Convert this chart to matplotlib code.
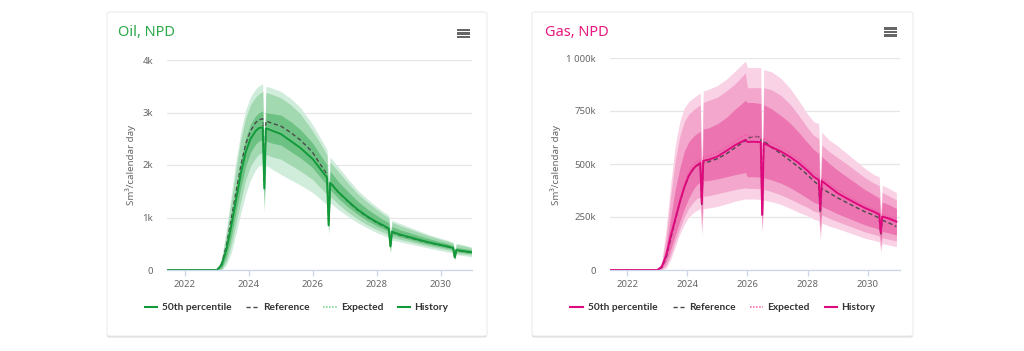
import matplotlib
matplotlib.use("Agg")
import matplotlib.pyplot as plt
from matplotlib.lines import Line2D
from matplotlib.patches import FancyBboxPatch, Rectangle

plt.rcParams["font.family"] = ["Noto Sans", "DejaVu Sans"]

W, H = 1024, 351

# shared time axis (decimal years); the four maintenance dips sit at 2024.48, 2026.49, 2028.42, 2030.43
T = [2021.45, 2023.0, 2023.15, 2023.3, 2023.45, 2023.6, 2023.75, 2023.9, 2024.05, 2024.2,
     2024.3, 2024.43, 2024.48, 2024.53, 2024.7, 2025.0, 2025.3, 2025.6, 2025.93, 2026.0,
     2026.2, 2026.44, 2026.49, 2026.54, 2026.8, 2027.1, 2027.4, 2027.7, 2028.0, 2028.2,
     2028.37, 2028.42, 2028.47, 2028.7, 2029.0, 2029.3, 2029.6, 2029.9, 2030.2, 2030.38,
     2030.43, 2030.48, 2030.7, 2030.95]

HIST_T = [2021.45, 2023.0]
HIST_V = [0, 0]

# oil, Sm3/calendar day
OIL_P50 = [0, 0, 100, 400, 850, 1350, 1850, 2250, 2500, 2640,
           2700, 2720, 1550, 2700, 2660, 2590, 2460, 2330, 2150, 2110,
           1950, 1760, 850, 1660, 1480, 1310, 1150, 1020, 910, 850,
           790, 450, 730, 680, 630, 580, 530, 490, 450, 420,
           240, 380, 360, 340]
OIL_REF = [0, 0, 120, 480, 980, 1500, 2000, 2400, 2650, 2800,
           2860, 2880, 1650, 2840, 2800, 2740, 2620, 2480, 2280, 2230,
           2040, 1820, 900, 1680, 1480, 1300, 1140, 1010, 900, 840,
           780, 460, 720, 670, 620, 570, 525, 485, 445, 415,
           240, 375, 355, 335]
OIL_EXP = [0, 0, 100, 410, 870, 1380, 1880, 2290, 2540, 2690,
           2750, 2780, 1600, 2740, 2690, 2620, 2490, 2360, 2180, 2140,
           1980, 1790, 870, 1690, 1500, 1330, 1170, 1040, 930, 865,
           805, 460, 745, 695, 645, 592, 542, 500, 460, 430,
           245, 390, 368, 348]
OIL_P90 = [0, 0, 250, 800, 1450, 2100, 2650, 3050, 3300, 3440,
           3500, 3550, 2200, 3500, 3470, 3400, 3270, 3100, 2820, 2760,
           2550, 2290, 1650, 2150, 1960, 1730, 1520, 1350, 1200, 1110,
           1040, 700, 950, 890, 820, 750, 680, 620, 570, 530,
           380, 510, 480, 440]
OIL_P80 = [0, 0, 200, 700, 1320, 1950, 2500, 2900, 3150, 3290,
           3350, 3400, 2100, 3380, 3350, 3280, 3150, 2980, 2700, 2640,
           2440, 2190, 1550, 2060, 1870, 1650, 1450, 1290, 1150, 1060,
           995, 660, 910, 850, 785, 720, 655, 600, 550, 510,
           360, 490, 460, 425]
OIL_P70 = [0, 0, 130, 520, 1040, 1580, 2100, 2520, 2780, 2930,
           2990, 3030, 1850, 3000, 2980, 2950, 2830, 2680, 2460, 2410,
           2220, 2000, 1200, 1880, 1680, 1490, 1310, 1160, 1035, 960,
           900, 560, 830, 770, 715, 655, 600, 550, 505, 470,
           300, 430, 410, 385]
OIL_P30 = [0, 0, 40, 260, 640, 1120, 1580, 1980, 2240, 2390,
           2450, 2480, 1300, 2460, 2420, 2380, 2260, 2140, 1980, 1940,
           1790, 1620, 780, 1530, 1360, 1200, 1060, 940, 840, 785,
           730, 400, 675, 630, 585, 535, 490, 452, 415, 388,
           215, 350, 332, 312]
OIL_P20 = [0, 0, 15, 170, 480, 900, 1330, 1720, 1980, 2130,
           2200, 2240, 1180, 2200, 2160, 2110, 2000, 1890, 1750, 1720,
           1590, 1440, 720, 1400, 1250, 1100, 970, 860, 770, 720,
           670, 350, 620, 585, 545, 500, 458, 420, 385, 360,
           200, 320, 305, 285]
OIL_P10 = [0, 0, 0, 100, 330, 700, 1100, 1450, 1720, 1900,
           1980, 2030, 1080, 2000, 1930, 1820, 1720, 1620, 1500, 1470,
           1370, 1240, 650, 1280, 1150, 1020, 900, 800, 710, 660,
           610, 300, 570, 540, 500, 460, 420, 380, 345, 325,
           180, 290, 275, 250]

# gas, thousand Sm3/calendar day
GAS_P50 = [0, 0, 15, 70, 160, 240, 320, 390, 445, 478,
           492, 505, 315, 515, 520, 535, 562, 590, 614, 604,
           605, 603, 260, 598, 580, 560, 535, 505, 468, 440,
           425, 285, 420, 395, 362, 338, 315, 293, 275, 262,
           175, 252, 243, 228]
GAS_REF = [0, 0, 12, 60, 150, 235, 318, 390, 445, 475,
           490, 500, 310, 505, 510, 525, 548, 578, 610, 622,
           630, 628, 260, 610, 578, 550, 518, 485, 448, 420,
           400, 270, 385, 365, 340, 318, 296, 275, 258, 245,
           170, 235, 222, 205]
GAS_EXP = [0, 0, 16, 75, 168, 250, 332, 405, 462, 495,
           510, 522, 325, 530, 538, 553, 580, 608, 640, 630,
           630, 628, 270, 622, 600, 578, 552, 522, 485, 456,
           440, 295, 435, 410, 378, 352, 328, 305, 287, 274,
           182, 262, 252, 238]
GAS_P90 = [0, 0, 40, 200, 410, 590, 700, 765, 795, 812,
           822, 835, 500, 845, 852, 870, 900, 940, 985, 955,
           955, 955, 470, 945, 935, 905, 860, 800, 735, 700,
           690, 380, 650, 615, 585, 550, 515, 480, 450, 440,
           270, 400, 385, 365]
GAS_P80 = [0, 0, 30, 160, 350, 520, 630, 700, 735, 755,
           765, 780, 440, 790, 800, 815, 845, 880, 930, 860,
           860, 860, 420, 860, 850, 825, 785, 730, 670, 635,
           620, 340, 590, 560, 530, 500, 468, 436, 410, 398,
           245, 365, 350, 330]
GAS_P70 = [0, 0, 22, 110, 250, 380, 480, 560, 605, 630,
           642, 655, 370, 665, 670, 690, 720, 760, 800, 790,
           790, 785, 350, 780, 760, 730, 695, 650, 600, 568,
           550, 300, 535, 505, 470, 440, 410, 380, 355, 340,
           215, 320, 308, 290]
GAS_P30 = [0, 0, 8, 40, 100, 165, 230, 290, 340, 380,
           400, 415, 230, 420, 422, 430, 440, 450, 460, 440,
           440, 438, 210, 435, 425, 410, 390, 365, 338, 320,
           310, 200, 300, 285, 265, 248, 230, 213, 200, 192,
           130, 182, 175, 165]
GAS_P20 = [0, 0, 3, 22, 70, 135, 195, 250, 292, 320,
           335, 345, 190, 348, 350, 360, 370, 380, 388, 385,
           385, 383, 190, 380, 370, 355, 336, 315, 295, 278,
           270, 170, 260, 245, 228, 212, 196, 180, 168, 160,
           105, 152, 145, 137]
GAS_P10 = [0, 0, 0, 10, 50, 110, 170, 215, 250, 270,
           280, 290, 160, 290, 292, 300, 312, 325, 335, 335,
           335, 333, 175, 330, 322, 310, 292, 272, 255, 240,
           232, 140, 222, 208, 195, 180, 165, 150, 140, 133,
           85, 125, 118, 110]

OIL_YTICKS = [0, 1000, 2000, 3000, 4000]
GAS_YTICKS = [0, 250, 500, 750, 1000]
XTICKS = [2022, 2024, 2026, 2028, 2030]
LEGEND_LABELS = ["50th percentile", "Reference", "Expected", "History"]

TEXT_SOFT = "#666666"
GRID = "#e6e6e6"
AXIS = "#ccd6eb"
REF_COLOR = "#4a4a4a"

OIL = dict(title="Oil, NPD", title_color="#2ba84a", line="#12993a", exp="#6fcf85",
           bands=["#d0ecdb", "#a3d9b1", "#6cc183"])
GAS = dict(title="Gas, NPD", title_color="#e8177f", line="#de0a7d", exp="#f25aa6",
           bands=["#f9d2e6", "#f3a7cd", "#eb74b1"])


def fx(x):
    return x / W


def fy(y):
    return 1 - y / H


def draw_card(fig, x0, x1, y0, y1):
    shadow = FancyBboxPatch((fx(x0), fy(y1 + 1.5)), fx(x1 - x0), (y1 - y0) / H,
                            boxstyle="round,pad=0,rounding_size=0.004",
                            transform=fig.transFigure, facecolor="#d9d9d9",
                            edgecolor="none", zorder=-3)
    card = FancyBboxPatch((fx(x0), fy(y1)), fx(x1 - x0), (y1 - y0) / H,
                          boxstyle="round,pad=0,rounding_size=0.004",
                          transform=fig.transFigure, facecolor="white",
                          edgecolor="#ececec", linewidth=0.8, zorder=-2)
    fig.patches.extend([shadow, card])


def draw_menu(fig, x, y):
    for k in range(3):
        fig.patches.append(Rectangle((fx(x), fy(y + k * 3.5 + 2.4)), fx(13), 2.4 / H,
                                     transform=fig.transFigure, facecolor="#666666",
                                     edgecolor="none", zorder=5))


def draw_legend(fig, style, xs, y):
    handles = [
        dict(color=style["line"], ls="-", lw=1.5),
        dict(color=REF_COLOR, ls=(0, (3, 2)), lw=1.0),
        dict(color=style["exp"], ls=(0, (1, 1)), lw=1.1),
        dict(color=style["line"], ls="-", lw=1.5),
    ]
    for (lx0, lx1, tx), label, kw in zip(xs, LEGEND_LABELS, handles):
        fig.lines.append(Line2D([fx(lx0), fx(lx1)], [fy(y), fy(y)],
                                transform=fig.transFigure, **kw))
        fig.text(fx(tx), fy(y), label, ha="left", va="center", fontsize=7.3,
                 family=["Lato", "DejaVu Sans"], fontweight="bold", color="#333333")


def draw_chart(ax, style, p10, p20, p30, p50, p70, p80, p90, ref, exp,
               ylim, yticks, ylabels, xlim):
    c_out, c_mid, c_in = style["bands"]
    ax.fill_between(T, p10, p90, color=c_out, linewidth=0, zorder=2)
    ax.fill_between(T, p20, p80, color=c_mid, linewidth=0, zorder=3)
    ax.fill_between(T, p30, p70, color=c_in, linewidth=0, zorder=4)
    ax.plot(T, ref, color=REF_COLOR, lw=1.0, ls=(0, (3, 2)), zorder=6)
    ax.plot(T, exp, color=style["exp"], lw=1.0, ls=(0, (1, 1)), zorder=6)
    ax.plot(T, p50, color=style["line"], lw=1.4, zorder=7)
    ax.plot(HIST_T, HIST_V, color=style["line"], lw=1.4, zorder=7)

    ax.set_xlim(*xlim)
    ax.set_ylim(*ylim)
    ax.set_facecolor("none")
    ax.set_yticks(yticks)
    ax.set_yticklabels(ylabels)
    ax.set_xticks(XTICKS)
    ax.set_xticklabels([str(v) for v in XTICKS])
    ax.grid(axis="y", color=GRID, lw=0.9, zorder=0)
    for side in ("top", "right", "left"):
        ax.spines[side].set_visible(False)
    ax.spines["bottom"].set_color(AXIS)
    ax.spines["bottom"].set_linewidth(0.9)
    ax.spines["bottom"].set_zorder(8)
    ax.tick_params(axis="y", length=0, pad=10, labelsize=6.9, labelcolor=TEXT_SOFT)
    ax.tick_params(axis="x", length=4, width=0.9, color=AXIS, pad=3,
                   labelsize=6.9, labelcolor=TEXT_SOFT)


def main():
    fig = plt.figure(figsize=(W / 100, H / 100), dpi=100)
    fig.patch.set_facecolor("white")

    draw_card(fig, 107, 487, 12, 336)
    draw_card(fig, 532, 913, 12, 336)

    ax_oil = fig.add_axes([fx(167), fy(270), fx(472 - 167), (270 - 60) / H])
    draw_chart(ax_oil, OIL, OIL_P10, OIL_P20, OIL_P30, OIL_P50, OIL_P70, OIL_P80, OIL_P90,
               OIL_REF, OIL_EXP, (0, 4000), OIL_YTICKS,
               ["0" if v == 0 else f"{v // 1000}k" for v in OIL_YTICKS], (2021.44, 2030.97))

    ax_gas = fig.add_axes([fx(610), fy(270), fx(900 - 610), (270 - 58) / H])
    draw_chart(ax_gas, GAS, GAS_P10, GAS_P20, GAS_P30, GAS_P50, GAS_P70, GAS_P80, GAS_P90,
               GAS_REF, GAS_EXP, (0, 1000), GAS_YTICKS,
               ["0" if v == 0 else f"{v:,}".replace(",", " ") + "k" for v in GAS_YTICKS],
               (2021.43, 2031.07))

    fig.text(fx(131), fy(165), "Sm³/calendar day", rotation=90, ha="center", va="center",
             fontsize=7, color=TEXT_SOFT)
    fig.text(fx(556), fy(165), "Sm³/calendar day", rotation=90, ha="center", va="center",
             fontsize=7, color=TEXT_SOFT)

    fig.text(fx(118), fy(32), OIL["title"], ha="left", va="center", fontsize=10.5,
             color=OIL["title_color"])
    fig.text(fx(545), fy(32), GAS["title"], ha="left", va="center", fontsize=10.5,
             color=GAS["title_color"])

    draw_menu(fig, 457, 29)
    draw_menu(fig, 884, 27.5)

    draw_legend(fig, OIL, [(145, 157, 162), (246, 258, 263), (323, 337, 341), (398, 410, 414)], 307)
    draw_legend(fig, GAS, [(570, 583, 588), (673, 685, 689), (750, 763, 767), (825, 837, 841)], 307)

    fig.savefig("out.png", dpi=100, facecolor="white")


if __name__ == "__main__":
    main()
